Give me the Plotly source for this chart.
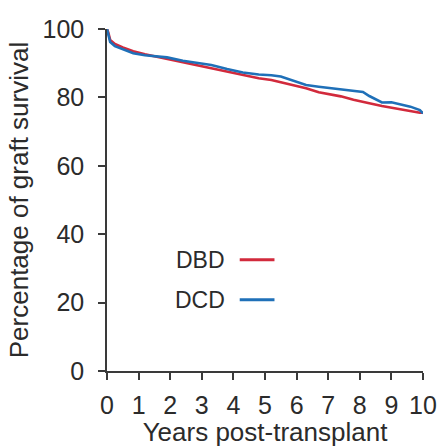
import plotly.graph_objects as go

years = [0, 0.04, 0.1, 0.25, 0.5, 0.83, 1.2, 1.5, 1.9, 2.4, 2.9, 3.3, 3.8, 4.3, 4.8,
         5.2, 5.5, 5.9, 6.3, 6.7, 7.0, 7.4, 7.8, 8.1, 8.3, 8.7, 9.0, 9.2, 9.6, 9.9, 10.0]
dbd = [100, 99.0, 96.8, 95.6, 94.6, 93.5, 92.6, 92.0, 91.3, 90.2, 89.4, 88.6, 87.5, 86.4, 85.6,
       85.1, 84.4, 83.6, 82.7, 81.5, 81.0, 80.3, 79.3, 78.8, 78.3, 77.5, 77.0, 76.5, 75.8, 75.5, 75.5]
dcd = [100, 98.5, 96.2, 95.0, 94.0, 92.9, 92.3, 92.0, 91.7, 90.7, 90.0, 89.5, 88.3, 87.3, 86.7,
       86.5, 86.1, 84.9, 83.6, 83.1, 82.8, 82.3, 81.9, 81.6, 80.4, 78.5, 78.6, 78.1, 77.3, 76.3, 75.3]

series_names = ["DBD", "DCD"]
series_colors = ["#d22a3c", "#1f70b8"]
x_ticks = list(range(0, 11))
y_ticks = [0, 20, 40, 60, 80, 100]
legend_y = [32.5, 20.8]

TXT = "#2b2b2b"
FONT = "Liberation Sans, Arial, sans-serif"

fig = go.Figure()
for name, vals, col in zip(series_names, [dbd, dcd], series_colors):
    fig.add_trace(go.Scatter(x=years, y=vals, mode="lines", name=name,
                             line=dict(color=col, width=2.6), cliponaxis=False,
                             showlegend=False))

for name, col, ly in zip(series_names, series_colors, legend_y):
    fig.add_annotation(x=3.8, y=ly, text=name, showarrow=False, xanchor="right",
                       yanchor="middle", font=dict(size=23, color=TXT, family=FONT))
    fig.add_shape(type="line", x0=4.2, x1=5.3, y0=ly, y1=ly,
                  line=dict(color=col, width=3))

axis_common = dict(showgrid=False, zeroline=False, showline=True, linecolor="#3a3a3a",
                   linewidth=1.5, ticks="outside", ticklen=7, tickwidth=1.5, automargin=False,
                   tickcolor="#3a3a3a", tickfont=dict(size=25, color=TXT, family=FONT))

fig.update_xaxes(range=[0, 10], tickvals=x_ticks, ticklabelstandoff=4, **axis_common,
                 title=dict(text="Years post-transplant", font=dict(size=26, color=TXT, family=FONT),
                            standoff=6))
fig.update_yaxes(range=[0, 100], tickvals=y_ticks, ticklabelstandoff=9, **axis_common,
                 title=dict(text="Percentage of graft survival",
                            font=dict(size=26, color=TXT, family=FONT), standoff=6))

fig.update_layout(width=440, height=447, margin=dict(l=107, r=17, t=29, b=76),
                  plot_bgcolor="white", paper_bgcolor="white")

fig.write_html("out.html")
